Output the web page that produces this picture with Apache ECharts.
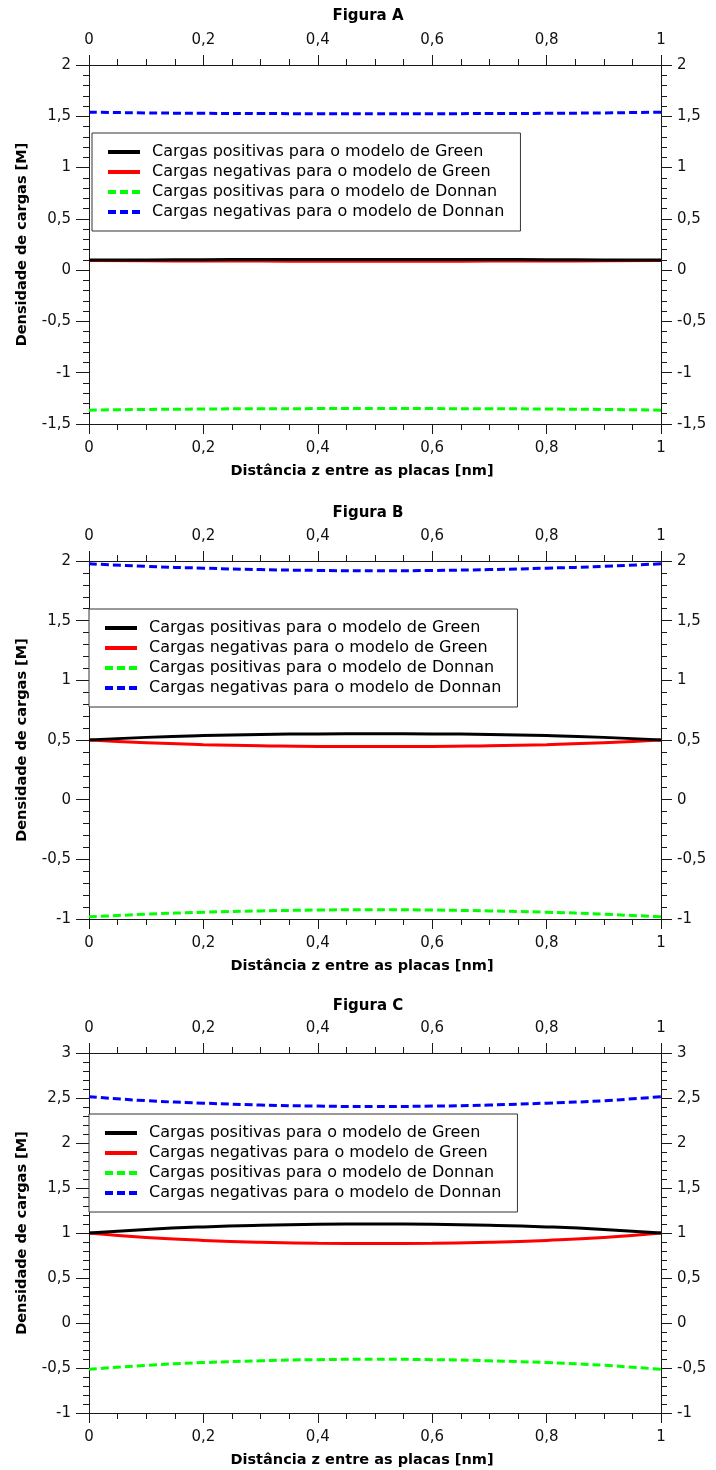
<!DOCTYPE html>
<html>
<head>
<meta charset="utf-8">
<script src="https://cdn.jsdelivr.net/npm/echarts@6/dist/echarts.min.js"></script>
<style>
html,body{margin:0;padding:0;background:#fff;}
#chart{width:716px;height:1470px;}
</style>
</head>
<body>
<div id="chart"></div>
<script>
// ---- data ----
var xValues = [0, 0.1, 0.2, 0.3, 0.4, 0.5, 0.6, 0.7, 0.8, 0.9, 1.0];
var seriesNames = [
  'Cargas positivas para o modelo de Green',
  'Cargas negativas para o modelo de Green',
  'Cargas positivas para o modelo de Donnan',
  'Cargas negativas para o modelo de Donnan'
];
var panelTitles = ['Figura A', 'Figura B', 'Figura C'];
var xAxisTitle = 'Distância z entre as placas [nm]';
var yAxisTitle = 'Densidade de cargas [M]';

// Figura A
var figA_greenPos  = [0.098, 0.100, 0.102, 0.103, 0.104, 0.104, 0.104, 0.103, 0.102, 0.100, 0.098];
var figA_greenNeg  = [0.095, 0.091, 0.089, 0.088, 0.087, 0.087, 0.087, 0.088, 0.089, 0.091, 0.095];
var figA_donnanPos = [-1.365, -1.358, -1.354, -1.351, -1.350, -1.349, -1.350, -1.351, -1.354, -1.358, -1.365];
var figA_donnanNeg = [1.540, 1.533, 1.529, 1.527, 1.525, 1.525, 1.525, 1.527, 1.529, 1.533, 1.540];
// Figura B
var figB_greenPos  = [0.500, 0.522, 0.537, 0.546, 0.551, 0.552, 0.551, 0.546, 0.537, 0.522, 0.500];
var figB_greenNeg  = [0.500, 0.476, 0.461, 0.452, 0.446, 0.445, 0.446, 0.452, 0.461, 0.476, 0.500];
var figB_donnanPos = [-0.982, -0.960, -0.943, -0.932, -0.925, -0.922, -0.925, -0.932, -0.943, -0.960, -0.982];
var figB_donnanNeg = [1.977, 1.955, 1.940, 1.928, 1.921, 1.918, 1.921, 1.928, 1.940, 1.955, 1.977];
// Figura C
var figC_greenPos  = [1.000, 1.040, 1.068, 1.086, 1.096, 1.100, 1.096, 1.086, 1.068, 1.040, 1.000];
var figC_greenNeg  = [1.000, 0.950, 0.918, 0.897, 0.886, 0.884, 0.886, 0.897, 0.918, 0.950, 1.000];
var figC_donnanPos = [-0.515, -0.470, -0.440, -0.420, -0.407, -0.403, -0.407, -0.420, -0.440, -0.470, -0.515];
var figC_donnanNeg = [2.515, 2.470, 2.443, 2.422, 2.410, 2.405, 2.410, 2.422, 2.443, 2.470, 2.515];

var xTicks = { min: 0, max: 1, interval: 0.2 };
var yRanges = [
  { min: -1.5, max: 2, interval: 0.5 },
  { min: -1,   max: 2, interval: 0.5 },
  { min: -1,   max: 3, interval: 0.5 }
];
var panelData = [
  [figA_greenPos, figA_greenNeg, figA_donnanPos, figA_donnanNeg],
  [figB_greenPos, figB_greenNeg, figB_donnanPos, figB_donnanNeg],
  [figC_greenPos, figC_greenNeg, figC_donnanPos, figC_donnanNeg]
];

// ---- style / layout ----
var FONT = 'DejaVu Sans';
var colors = ['#000000', '#ff0000', '#00ff00', '#0000ff'];
var dashed = [false, false, true, true];
var zOrder = [5, 4, 3, 3];
var grids = [
  { left: 89, right: 55, top: 65, height: 359 },
  { left: 89, right: 55, top: 561, height: 358 },
  { left: 89, right: 55, top: 1053, height: 360 }
];
var titleTops = [4, 501, 994];
var titleCenterX = 363;
var legendPos = [
  { left: 92, top: 133 },
  { left: 89, top: 609 },
  { left: 89, top: 1114 }
];

function fmt(v) {
  return String(Math.round(v * 100) / 100).replace('.', ',');
}
var axisLineC = '#1a1a1a';
var labelStyle = { fontFamily: FONT, fontSize: 15, color: '#111', formatter: fmt };

var option = {
  backgroundColor: '#fff',
  animation: false,
  title: [], grid: [], xAxis: [], yAxis: [], legend: [], series: []
};

for (var p = 0; p < 3; p++) {
  option.grid.push(grids[p]);
  option.title.push({
    text: panelTitles[p], left: titleCenterX, top: titleTops[p], textAlign: 'center',
    textStyle: { fontFamily: FONT, fontSize: 15, fontWeight: 'bold', color: '#000' }
  });
  var xCommon = {
    type: 'value', gridIndex: p, min: xTicks.min, max: xTicks.max, interval: xTicks.interval,
    axisLine: { show: true, onZero: false, lineStyle: { color: axisLineC, width: 1 } },
    axisTick: { show: true, inside: false, length: 10, lineStyle: { color: axisLineC } },
    minorTick: { show: true, splitNumber: 4, length: 6, lineStyle: { color: axisLineC } },
    splitLine: { show: false },
    axisLabel: Object.assign({ margin: 17 }, labelStyle)
  };
  option.xAxis.push(Object.assign({}, xCommon, {
    position: 'bottom',
    name: xAxisTitle, nameLocation: 'middle', nameGap: 40,
    nameTextStyle: { fontFamily: FONT, fontSize: 14.5, fontWeight: 'bold', color: '#000', padding: [0, 26, 0, 0] }
  }));
  option.xAxis.push(Object.assign({}, xCommon, { position: 'top' }));
  var yr = yRanges[p];
  var yCommon = {
    type: 'value', gridIndex: p, min: yr.min, max: yr.max, interval: yr.interval,
    axisLine: { show: true, onZero: false, lineStyle: { color: axisLineC, width: 1 } },
    minorTick: { show: true, splitNumber: 5, length: 6, lineStyle: { color: axisLineC } },
    splitLine: { show: false }
  };
  option.yAxis.push(Object.assign({}, yCommon, {
    position: 'left',
    axisTick: { show: true, inside: false, length: 13, lineStyle: { color: axisLineC } },
    axisLabel: Object.assign({ margin: 18 }, labelStyle),
    name: yAxisTitle, nameLocation: 'middle', nameGap: 59, nameRotate: 90,
    nameTextStyle: { fontFamily: FONT, fontSize: 14.5, fontWeight: 'bold', color: '#000' }
  }));
  option.yAxis.push(Object.assign({}, yCommon, {
    position: 'right',
    axisTick: { show: true, inside: false, length: 11, lineStyle: { color: axisLineC } },
    axisLabel: Object.assign({ margin: 16 }, labelStyle)
  }));

  var legendData = [];
  for (var s = 0; s < 4; s++) {
    var vals = panelData[p][s];
    var pts = xValues.map(function (x, i) { return [x, vals[i]]; });
    option.series.push({
      type: 'line', name: seriesNames[s], xAxisIndex: p * 2, yAxisIndex: p * 2,
      data: pts, smooth: true, symbol: 'none', showSymbol: false,
      lineStyle: { color: colors[s], width: 3, type: dashed[s] ? [8, 4] : 'solid' },
      itemStyle: { color: colors[s] },
      z: zOrder[s]
    });
    legendData.push(seriesNames[s]);
  }
  option.legend.push({
    data: legendData, orient: 'vertical', left: legendPos[p].left, top: legendPos[p].top,
    backgroundColor: '#fff', borderColor: '#333', borderWidth: 1,
    padding: [11, 16, 11, 14], itemGap: 4, itemWidth: 32, itemHeight: 16,
    selectedMode: false,
    itemStyle: { color: 'rgba(0,0,0,0)', borderColor: 'rgba(0,0,0,0)', borderWidth: 0, opacity: 0 },
    lineStyle: { width: 4 },
    textStyle: { fontFamily: FONT, fontSize: 16, lineHeight: 16, color: '#000', padding: [0, 0, 0, 7] },
    z: 6
  });
}

var chart = echarts.init(document.getElementById('chart'), null, { renderer: 'canvas' });
chart.setOption(option);
</script>
</body>
</html>
